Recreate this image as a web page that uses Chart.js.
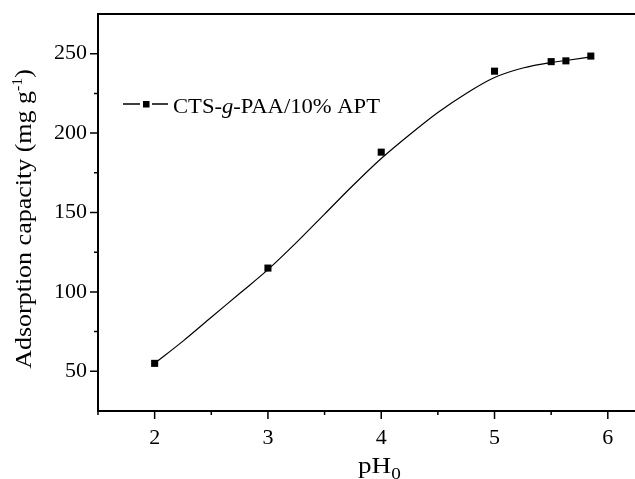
<!DOCTYPE html>
<html>
<head>
<meta charset="utf-8">
<script src="https://cdn.jsdelivr.net/npm/chart.js@4"></script>
<style>
  html, body { margin: 0; padding: 0; background: #fff; }
  #wrap { width: 635px; height: 479px; position: relative; }
</style>
</head>
<body>
<div id="wrap"><canvas id="phChart"></canvas></div>
<script>
// measured points
const phValues = [2, 3, 4, 5, 5.5, 5.63, 5.85];
const capacityValues = [55, 115, 188, 239, 245, 245.5, 248.5];

// fitted curve
const fitPh = [2, 2.25, 2.5, 2.75, 3, 3.25, 3.5, 3.75, 4, 4.25, 4.5, 4.75, 5, 5.25, 5.5, 5.63, 5.85];
const fitCapacity = [55, 69, 84, 99, 114, 131, 149, 167, 184, 199, 213, 225, 235, 241, 244.5, 245.7, 248];

// axes
const xTicks = [2, 3, 4, 5, 6];
const xMinorTicks = [1.5, 2.5, 3.5, 4.5, 5.5];
const yTicks = [50, 100, 150, 200, 250];
const yMinorTicks = [75, 125, 175, 225];

const seriesLabel = ['CTS-', 'g', '-PAA/10% APT'];

const SERIF = "'Liberation Serif', 'Times New Roman', serif";
const STRETCH = 1.13; // text in the original is a bit wider than Times

function pts(xs, ys) {
    return xs.map((x, i) => ({ x: x, y: ys[i] }));
}

// draws text with a horizontal stretch, returns advance width
function wideText(ctx, text, x, y, font) {
    ctx.save();
    ctx.font = font;
    const w = ctx.measureText(text).width * STRETCH;
    ctx.translate(x, y);
    ctx.scale(STRETCH, 1);
    ctx.fillText(text, 0, 0);
    ctx.restore();
    return w;
}
function textWidth(ctx, text, font) {
    ctx.save();
    ctx.font = font;
    const w = ctx.measureText(text).width * STRETCH;
    ctx.restore();
    return w;
}

const decorPlugin = {
    id: 'decor',
    afterDraw(chart) {
        const { ctx, chartArea: { top, bottom, left, right }, scales: { x, y } } = chart;
        ctx.save();
        ctx.strokeStyle = '#000';
        ctx.fillStyle = '#000';

        // top frame line
        ctx.lineWidth = 2;
        ctx.beginPath();
        ctx.moveTo(left - 1, top);
        ctx.lineTo(chart.width, top);
        ctx.stroke();

        // outward ticks
        ctx.lineWidth = 1.5;
        ctx.beginPath();
        xTicks.forEach(v => { const p = x.getPixelForValue(v); ctx.moveTo(p, bottom); ctx.lineTo(p, bottom + 8); });
        xMinorTicks.forEach(v => { const p = x.getPixelForValue(v); ctx.moveTo(p, bottom); ctx.lineTo(p, bottom + 4); });
        yTicks.forEach(v => { const p = y.getPixelForValue(v); ctx.moveTo(left, p); ctx.lineTo(left - 8, p); });
        yMinorTicks.forEach(v => { const p = y.getPixelForValue(v); ctx.moveTo(left, p); ctx.lineTo(left - 4, p); });
        ctx.stroke();

        ctx.textBaseline = 'alphabetic';
        ctx.textAlign = 'left';

        // y axis title with superscript
        const big = '23px ' + SERIF;
        const sup = '14px ' + SERIF;
        const p1 = 'Adsorption capacity (mg g', p2 = '-1', p3 = ')';
        const total = textWidth(ctx, p1, big) + textWidth(ctx, p2, sup) + textWidth(ctx, p3, big);
        ctx.save();
        ctx.translate(31, 219);
        ctx.rotate(-Math.PI / 2);
        let cx = -total / 2;
        cx += wideText(ctx, p1, cx, 0, big);
        cx += wideText(ctx, p2, cx, -9, sup);
        wideText(ctx, p3, cx, 0, big);
        ctx.restore();

        // x axis title with subscript
        let tx = 358;
        tx += wideText(ctx, 'pH', tx, 473, '24px ' + SERIF);
        wideText(ctx, '0', tx, 479, '17px ' + SERIF);

        // legend
        const ly = 104;
        ctx.lineWidth = 1.5;
        ctx.beginPath();
        ctx.moveTo(123, ly); ctx.lineTo(140, ly);
        ctx.moveTo(152, ly); ctx.lineTo(168, ly);
        ctx.stroke();
        ctx.fillRect(143, ly - 3, 6.5, 6.5);
        const lf = '20px ' + SERIF, lfi = 'italic 20px ' + SERIF;
        let lx = 173;
        lx += wideText(ctx, seriesLabel[0], lx, 112.5, lf);
        lx += wideText(ctx, seriesLabel[1], lx, 112.5, lfi);
        wideText(ctx, seriesLabel[2], lx, 112.5, lf);

        ctx.restore();
    }
};

const ctx = document.getElementById('phChart').getContext('2d');
const phChart = new Chart(ctx, {
    type: 'scatter',
    data: {
        datasets: [
            {
                label: 'fit',
                data: pts(fitPh, fitCapacity),
                showLine: true,
                borderColor: '#000',
                borderWidth: 1.2,
                pointRadius: 0,
                cubicInterpolationMode: 'monotone'
            },
            {
                label: seriesLabel.join(''),
                data: pts(phValues, capacityValues),
                showLine: false,
                pointStyle: 'rect',
                pointRadius: 5,
                backgroundColor: '#000',
                borderColor: '#000',
                borderWidth: 0
            }
        ]
    },
    options: {
        responsive: true,
        maintainAspectRatio: false,
        animation: false,
        layout: { autoPadding: false, padding: { top: 14, right: 0, left: 0, bottom: 0 } },
        scales: {
            x: {
                type: 'linear',
                min: 1.5,
                max: 6.24,
                afterBuildTicks: s => { s.ticks = xTicks.map(v => ({ value: v })); },
                afterFit: s => { s.height = 68; s.paddingLeft = 0; s.paddingRight = 0; },
                grid: { display: false, drawTicks: false },
                border: { display: true, color: '#000', width: 2 },
                ticks: { color: '#000', padding: 14, font: { family: SERIF, size: 22 } }
            },
            y: {
                min: 25,
                max: 275,
                afterBuildTicks: s => { s.ticks = yTicks.map(v => ({ value: v })); },
                afterFit: s => { s.width = 98; s.paddingTop = 0; s.paddingBottom = 0; },
                grid: { display: false, drawTicks: false },
                border: { display: true, color: '#000', width: 2 },
                ticks: { color: '#000', padding: 11, font: { family: SERIF, size: 22 } }
            }
        },
        plugins: {
            legend: { display: false },
            tooltip: { enabled: false }
        }
    },
    plugins: [decorPlugin]
});
</script>
</body>
</html>
